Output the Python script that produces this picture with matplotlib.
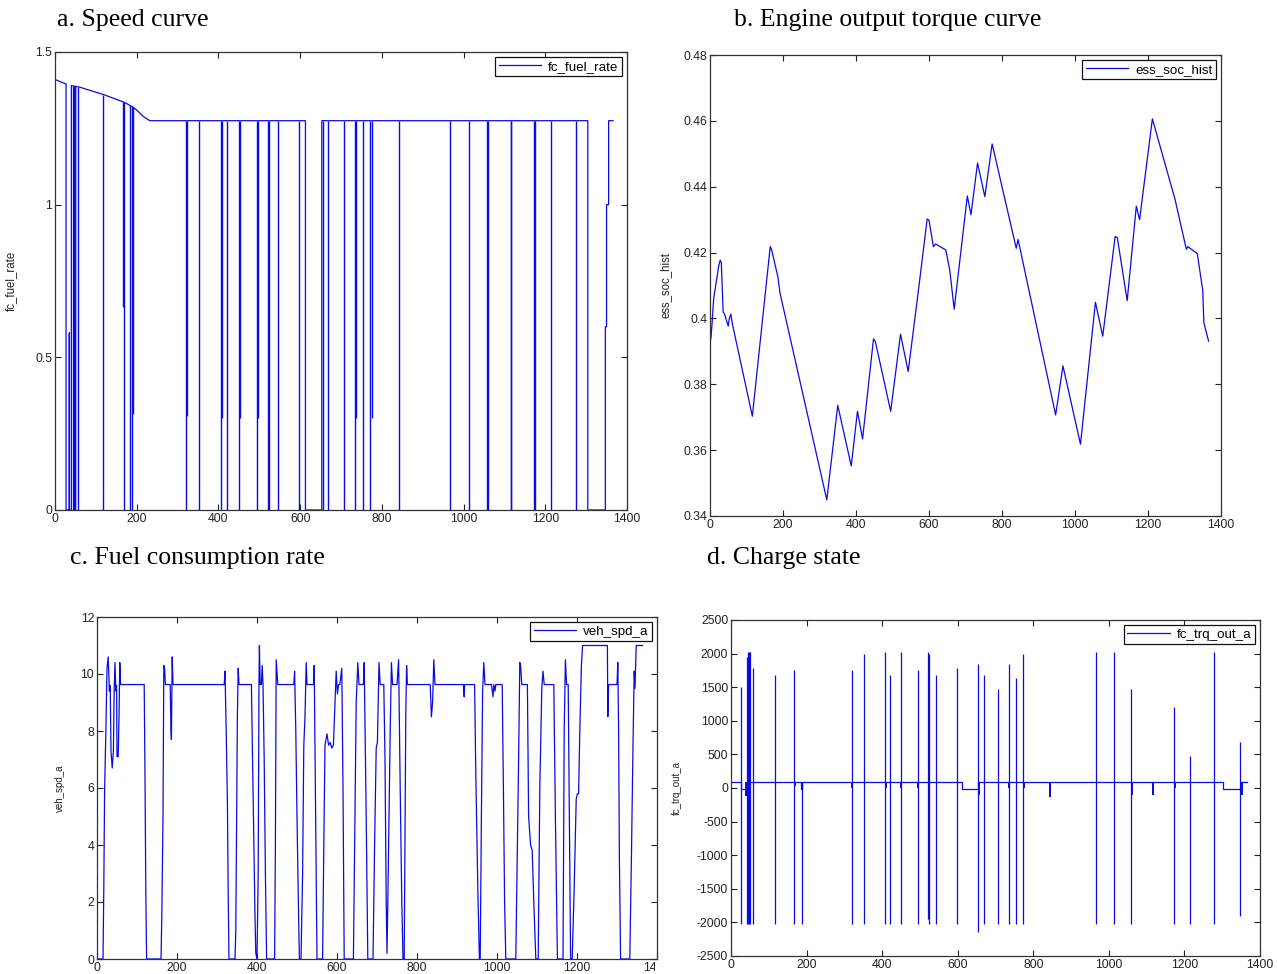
"""
Four-panel MATLAB-style simulation plot (speed / torque / fuel / SOC).
Values are read off the reference picture.
"""

import matplotlib
matplotlib.use("Agg")
import matplotlib.pyplot as plt
from matplotlib.ticker import FuncFormatter
from matplotlib.transforms import Bbox, TransformedBbox


# ════════════════════════════════════════════════════════
# Data
# ════════════════════════════════════════════════════════

# --- a. fc_fuel_rate: main trace (on/off steps) -------------------------
fuel_t = [0, 0, 27, 27, 35, 35, 35, 40, 40, 60, 120, 170, 190, 200, 215, 232,
          613, 613, 653, 653, 1304, 1304, 1347, 1347, 1350, 1350, 1355, 1355, 1366]
fuel_v = [0, 1.41, 1.395, 0, 0, 0.58, 0, 0, 1.39, 1.385, 1.36, 1.335, 1.32, 1.31, 1.29, 1.275,
          1.275, 0, 0, 1.275, 1.275, 0, 0, 0.6, 0.6, 1.0, 1.0, 1.275, 1.275]

# short engine-off dips (vertical strokes)
fuel_dip_t = [44, 46, 48, 50, 57, 118, 167, 170, 183, 188, 190, 320, 322, 352,
              406, 409, 422, 451, 453, 495, 497, 522, 524, 545, 598, 657, 669,
              707, 734, 737, 755, 772, 775, 843, 967, 1013, 1058, 1061, 1115,
              1117, 1173, 1175, 1213, 1275]
fuel_dip_top = [1.39, 1.39, 1.389, 1.388, 1.386, 1.36, 1.337, 1.335, 1.325, 1.322, 1.32,
                1.275, 1.275, 1.275, 1.275, 1.275, 1.275, 1.275, 1.275, 1.275, 1.275,
                1.275, 1.275, 1.275, 1.275, 1.275, 1.275, 1.275, 1.275, 1.275, 1.275,
                1.275, 1.275, 1.275, 1.275, 1.275, 1.275, 1.275, 1.275, 1.275, 1.275,
                1.275, 1.275, 1.275]
fuel_dip_low = [0, 0, 0, 0, 0, 0, 0.665, 0, 0, 0, 0.316, 0, 0.307, 0,
                0, 0.3, 0, 0, 0.3, 0, 0.3, 0, 0, 0, 0, 0, 0,
                0, 0, 0.3, 0, 0, 0.3, 0, 0, 0, 0, 0, 0,
                0, 0, 0, 0, 0]

# --- b. ess_soc_hist ----------------------------------------------------
soc_t = [0, 3, 6, 10, 24, 28, 31, 36, 41, 44, 50, 53, 57, 62, 116, 165, 169,
         186, 192, 320, 350, 387, 404, 418, 448, 453, 495, 522, 543, 571, 595,
         600, 612, 618, 646, 657, 669, 705, 715, 733, 753, 773, 839, 844, 947,
         967, 1015, 1056, 1076, 1110, 1116, 1143, 1168, 1177, 1212, 1274, 1305,
         1309, 1335, 1350, 1353, 1366]
soc_v = [0.392, 0.3946, 0.399, 0.406, 0.416, 0.4177, 0.417, 0.402, 0.401, 0.3997,
         0.3977, 0.400, 0.4013, 0.398, 0.3703, 0.4218, 0.4208, 0.4126, 0.4076,
         0.3449, 0.3736, 0.3552, 0.3718, 0.3634, 0.3938, 0.393, 0.3718, 0.3952,
         0.3839, 0.4085, 0.4302, 0.4298, 0.4218, 0.4226, 0.4208, 0.4146, 0.4028,
         0.4372, 0.4315, 0.4472, 0.437, 0.453, 0.4213, 0.424, 0.3707, 0.3856,
         0.3618, 0.4049, 0.3946, 0.4249, 0.4245, 0.4054, 0.4341, 0.43, 0.4606,
         0.4362, 0.421, 0.4218, 0.4197, 0.4085, 0.3987, 0.3931]

# --- c. veh_spd_a -------------------------------------------------------
spd_t = [0, 15, 17, 19, 22, 25, 28, 31, 33, 35, 38, 41, 43, 45, 47, 49, 50, 53, 55, 57, 59,
         118, 120, 122, 124,
         160, 162, 165, 167, 169, 171, 183, 185, 186, 188, 190, 318, 320, 323, 326, 328, 330,
         345, 347, 349, 351, 353, 355, 386, 388, 392, 395, 397, 400, 403, 405, 406, 408, 411,
         413, 415, 418, 421, 424,
         444, 446, 448, 452, 492, 494, 497, 500, 504, 506,
         510, 514, 517, 520, 523, 525, 542, 543, 546, 550,
         564, 567, 570, 575, 579, 583, 587, 591, 595, 598, 601, 604, 607, 612, 615, 618,
         641, 644, 648, 652, 655, 666, 668, 673, 677,
         690, 694, 698, 701, 705, 708, 717, 720, 723, 725, 727, 733, 736, 739, 750, 754,
         758, 762, 765,
         768, 772, 774, 776, 833, 836, 839, 842, 845, 916, 918, 919, 944, 947, 952, 956,
         958, 961, 964, 967, 970, 986, 988, 990, 992, 995, 997, 1013, 1016, 1019, 1022,
         1047, 1050, 1054, 1057, 1059, 1062, 1076, 1079, 1084, 1088, 1092, 1097,
         1103, 1107, 1112, 1115, 1118, 1142, 1146, 1151,
         1165, 1168, 1171, 1174, 1178, 1181, 1184,
         1188, 1193, 1198, 1201, 1204, 1207, 1211, 1214, 1276, 1277, 1279, 1300, 1302,
         1304, 1306, 1309,
         1332, 1336, 1340, 1343, 1345, 1348, 1364]
spd_v = [0, 0, 2.5, 5.9, 7.9, 10.2, 10.6, 9.4, 9.6, 7.3, 6.7, 7.3, 9.5, 10.4, 9.4, 9.6, 7.1, 7.1, 8.5, 10.4, 9.63,
         9.63, 6.4, 2.4, 0,
         0, 1.5, 5.0, 10.3, 10.2, 9.63, 9.63, 8.0, 7.7, 10.6, 9.63, 9.63, 10.1, 8.0, 5.5, 2.3, 0,
         0, 1.0, 5.0, 8.6, 10.2, 9.63, 9.63, 7.8, 4.3, 1.5, 0.2, 0, 3.0, 9.8, 11.0, 9.63, 9.63,
         10.3, 9.63, 7.0, 3.0, 0,
         0, 4.0, 10.5, 9.63, 9.63, 10.1, 8.0, 5.0, 1.5, 0,
         0, 3.0, 7.5, 8.5, 10.4, 9.63, 9.63, 10.3, 6.0, 0,
         0, 4.0, 7.5, 7.9, 7.5, 7.6, 7.4, 7.5, 9.0, 10.1, 9.3, 9.63, 9.63, 10.2, 6.0, 0,
         0, 4.0, 9.0, 10.4, 9.63, 9.63, 10.4, 5.0, 0,
         0, 4.0, 7.4, 7.6, 10.4, 9.63, 9.63, 7.0, 2.0, 0.2, 2.0, 8.0, 10.4, 9.63, 9.63, 10.5,
         6.0, 2.0, 0,
         0, 8.6, 10.3, 9.63, 9.63, 8.5, 9.0, 10.5, 9.63, 9.63, 9.2, 9.63, 9.63, 6.5, 2.5, 0,
         0, 5.0, 9.4, 10.4, 9.63, 9.63, 9.4, 9.2, 9.63, 9.4, 9.63, 9.63, 6.0, 2.0, 0,
         0, 3.0, 7.0, 10.4, 10.3, 9.63, 9.63, 5.0, 4.0, 3.8, 2.0, 0,
         0, 6.0, 9.5, 10.1, 9.63, 9.63, 5.0, 0,
         0, 8.0, 10.5, 9.63, 9.63, 5.0, 0,
         0, 2.5, 5.6, 5.8, 5.8, 8.0, 10.3, 11.0, 11.0, 8.5, 9.63, 9.63, 10.4,
         8.0, 3.5, 0,
         0, 3.5, 7.5, 10.1, 9.5, 11.0, 11.0]

# --- d. fc_trq_out_a ----------------------------------------------------
trq_t = [0, 27, 27, 41, 41, 184, 184, 189, 189, 611, 611, 653, 653,
         1303, 1303, 1349, 1349, 1366]
trq_v = [85, 85, -10, -10, 85, 85, -10, -10, 85, 85, -10, -10, 85,
         85, -10, -10, 85, 85]

# full-range torque spikes
trq_spike_t = [27, 42, 44, 47, 50, 57, 117, 168, 188, 319, 353, 407, 421, 450,
               495, 521, 524, 543, 598, 654, 670, 707, 735, 753, 774, 967, 1014,
               1058, 1173, 1214, 1277, 1348]
trq_spike_hi = [1510, 1950, 2030, 2030, 2030, 1790, 1680, 1750, 85, 1750, 2000, 2030,
                1680, 2030, 1750, 2030, 2000, 1680, 1790, 1840, 1680, 1480, 1840,
                1640, 2000, 2030, 2030, 1480, 1200, 480, 2030, 680]
trq_spike_lo = [-2020, -2020, -2020, -2020, -2020, -2020, -2020, -2020, -2020, -2020,
                -2020, -2020, -2020, -2020, -2020, -1950, -2020, -2020, -2020, -2150,
                -2020, -2020, -2020, -2020, -2020, -2020, -2020, -2020, -2020, -2020,
                -2020, -1900]

# small notches below the idle line
trq_dip_t = [40, 170, 320, 409, 451, 496, 656, 737, 775, 843, 845, 1060, 1116, 1118,
             1175, 1353]
trq_dip_lo = [-120, 30, -5, -5, -5, -5, -100, -5, -5, -130, -130, -100, -100, -100,
              -5, -100]


# ════════════════════════════════════════════════════════
# Layout helpers
# ════════════════════════════════════════════════════════

W, H = 1277, 974
LINE = "#0a0ae6"
TICK_FONT = "Liberation Sans"
TITLE_FONT = "Liberation Serif"


def _rect(left, right, top, bottom):
    """Pixel box -> figure-fraction [x, y, w, h]."""
    return [left / W, 1 - bottom / H, (right - left) / W, (bottom - top) / H]


def _style(ax, ylim, yticks, ylabel, label_x, label_size, legend_label, line):
    """MATLAB-ish axes: inward ticks on all four sides, boxed legend."""
    ax.set_xlim(0, 1400)
    ax.set_ylim(*ylim)
    ax.set_xticks(range(0, 1401, 200))
    ax.set_yticks(yticks)
    fmt = FuncFormatter(lambda v, p: f"{v:g}")
    ax.xaxis.set_major_formatter(fmt)
    ax.yaxis.set_major_formatter(fmt)
    ax.tick_params(direction="in", top=True, right=True, length=4, width=0.8,
                   labelsize=8.8, pad=2, colors="#222222")
    for lab in ax.get_xticklabels() + ax.get_yticklabels():
        lab.set_fontfamily(TICK_FONT)
    for sp in ax.spines.values():
        sp.set_color("#333333")
        sp.set_linewidth(0.9)

    # label_x is the centre of the rotated label; the anchor sits on its right edge
    ax.set_ylabel(ylabel, fontsize=label_size, family=TICK_FONT, color="#222222")
    pos = ax.get_position()
    ax.yaxis.set_label_coords((label_x + label_size * 0.6) / W, pos.y0 + pos.height / 2,
                              transform=ax.figure.transFigure)

    leg = ax.legend([line], [legend_label], loc="upper right",
                    prop={"family": TICK_FONT, "size": 9.6}, handlelength=3.2,
                    fancybox=False, framealpha=1, borderaxespad=0.4,
                    borderpad=0.25, handletextpad=0.5)
    leg.get_frame().set_edgecolor("#111111")
    leg.get_frame().set_linewidth(0.9)


def _title(fig, text, x_px, y_px):
    fig.text(x_px / W, 1 - y_px / H, text, fontsize=18.5, family=TITLE_FONT,
             ha="left", va="center")


# ════════════════════════════════════════════════════════
# Figure
# ════════════════════════════════════════════════════════

fig = plt.figure(figsize=(W / 100, H / 100), dpi=100)

# ── a. fuel rate ─────────────────────────────────────
ax_a = fig.add_axes(_rect(55, 627, 52, 510))
(ln_a,) = ax_a.plot(fuel_t, fuel_v, color=LINE, lw=0.9)
ax_a.vlines(fuel_dip_t, fuel_dip_low, fuel_dip_top, color=LINE, lw=1.0)
_style(ax_a, (0, 1.5), [0, 0.5, 1, 1.5], "fc_fuel_rate", 12, 8.3, "fc_fuel_rate", ln_a)
_title(fig, "a. Speed curve", 57, 20)

# ── b. state of charge ───────────────────────────────
ax_b = fig.add_axes(_rect(710, 1221, 55, 516))
(ln_b,) = ax_b.plot(soc_t, soc_v, color=LINE, lw=0.9)
_style(ax_b, (0.34, 0.48), [0.34 + 0.02 * i for i in range(8)], "ess_soc_hist", 667, 8.3,
       "ess_soc_hist", ln_b)
_title(fig, "b. Engine output torque curve", 734, 20)

# ── c. vehicle speed ─────────────────────────────────
ax_c = fig.add_axes(_rect(97, 657, 617, 959))
(ln_c,) = ax_c.plot(spd_t, spd_v, color=LINE, lw=0.9)
_style(ax_c, (0, 12), range(0, 13, 2), "veh_spd_a", 61, 7, "veh_spd_a", ln_c)
_title(fig, "c. Fuel consumption rate", 70, 558)

# the reference crop cuts the last x label of panel c ("14..")
keep = TransformedBbox(Bbox([[0, 0], [655 / W, 1]]), fig.transFigure)
last = ax_c.xaxis.get_major_ticks()[-1].label1
last.set_clip_box(keep)
last.set_clip_on(True)

# ── d. engine torque ─────────────────────────────────
ax_d = fig.add_axes(_rect(731, 1260, 620, 956))
(ln_d,) = ax_d.plot(trq_t, trq_v, color=LINE, lw=0.9)
ax_d.vlines(trq_spike_t, trq_spike_lo, trq_spike_hi, color=LINE, lw=0.9)
ax_d.vlines(trq_dip_t, trq_dip_lo, 85, color=LINE, lw=1.4)
_style(ax_d, (-2500, 2500), range(-2500, 2501, 500), "fc_trq_out_a", 678, 7,
       "fc_trq_out_a", ln_d)
_title(fig, "d. Charge state", 707, 558)

fig.savefig("out.png", dpi=100, facecolor="white")
plt.close(fig)
